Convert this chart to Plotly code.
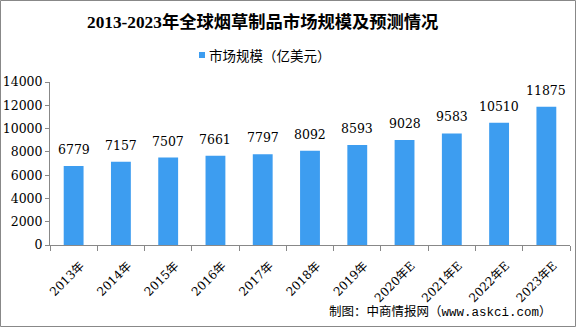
import plotly.graph_objects as go

categories = ["2013年", "2014年", "2015年", "2016年", "2017年", "2018年",
              "2019年", "2020年E", "2021年E", "2022年E", "2023年E"]
values = [6779, 7157, 7507, 7661, 7797, 8092, 8593, 9028, 9583, 10510, 11875]
series_name = "市场规模（亿美元）"
title_text = "2013-2023年全球烟草制品市场规模及预测情况"
source_text = "制图：中商情报网（www.askci.com）"
y_ticks = [0, 2000, 4000, 6000, 8000, 10000, 12000, 14000]

serif = "DejaVu Serif, Noto Sans CJK SC, serif"
title_font = "Liberation Serif, Noto Sans CJK SC, serif"
sans = "Noto Sans CJK SC, sans-serif"
mono = "Liberation Mono, Noto Sans CJK SC, monospace"
bar_color = "#3d9df0"

W, H = 576, 327
L, R, T, B = 50, 6, 82, 82
pw, ph = W - L - R, H - T - B

def px_x(p):
    return (p - L) / pw

def px_y(p):
    return (H - B - p) / ph

fig = go.Figure()
fig.add_trace(go.Bar(
    x=categories, y=values, name=series_name, showlegend=False,
    marker=dict(color=bar_color, line=dict(width=0)),
    width=0.42,
    hoverinfo="x+y",
))

for c, v in zip(categories, values):
    fig.add_annotation(x=c, y=v, text=str(v), showarrow=False,
                       xanchor="center", yanchor="bottom", yshift=7,
                       font=dict(family=serif, size=12.5, color="#000000"))

fig.update_layout(
    width=W, height=H,
    margin=dict(l=L, r=R, t=T, b=B, autoexpand=False),
    paper_bgcolor="#ffffff", plot_bgcolor="#ffffff",
    showlegend=False,
    xaxis=dict(type="category", showline=True, linecolor="#888888", linewidth=1,
               ticks="outside", tickson="boundaries", ticklen=5, tickcolor="#888888",
               tickangle=-45, tickfont=dict(family=serif, size=12, color="#000000"),
               ticklabelshift=7, ticklabelstandoff=8,
               showgrid=False, range=[-0.5, len(categories) - 0.5], automargin=False),
    yaxis=dict(range=[0, 14000], tickvals=y_ticks, tickformat="d", showline=True,
               linecolor="#888888", linewidth=1, ticks="outside", ticklen=4,
               tickcolor="#888888", showgrid=False, zeroline=False, automargin=False,
               tickfont=dict(family=serif, size=12.5, color="#000000")),
)

# title as annotation pinned to its left edge
fig.add_annotation(text="<b>" + title_text + "</b>", xref="paper", yref="paper",
                   x=px_x(85), y=px_y(22), xanchor="left", yanchor="middle",
                   showarrow=False,
                   font=dict(family=title_font, size=17.3, color="#000000"))

# legend (drawn manually to match the compact marker)
fig.add_shape(type="rect", xref="paper", yref="paper",
              x0=px_x(199), x1=px_x(205), y0=px_y(58), y1=px_y(52),
              fillcolor=bar_color, line=dict(width=0))
fig.add_annotation(text=series_name, xref="paper", yref="paper",
                   x=px_x(207), y=px_y(55), xanchor="left", yanchor="middle",
                   showarrow=False, font=dict(family=sans, size=13.5, color="#000000"))

fig.add_annotation(text=source_text, xref="paper", yref="paper",
                   x=px_x(554), y=px_y(312), xanchor="right", yanchor="middle",
                   showarrow=False, font=dict(family=mono, size=12.5, color="#000000"))

fig.add_shape(type="rect", xref="paper", yref="paper",
              x0=px_x(0.5), x1=px_x(575.5), y0=px_y(326.5), y1=px_y(0.5),
              line=dict(color="#888888", width=1), layer="above")

fig.write_html("out.html", config={"displayModeBar": False},
               post_script="document.body.style.margin='0';document.body.style.overflow='hidden';")
